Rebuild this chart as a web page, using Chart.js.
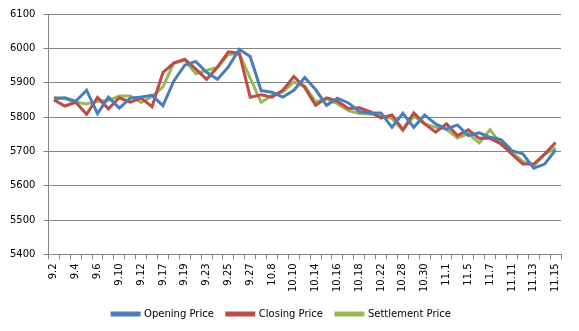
<!DOCTYPE html>
<html>
<head>
<meta charset="utf-8">
<script src="https://cdn.jsdelivr.net/npm/chart.js@4"></script>
<style>
  html, body { margin: 0; padding: 0; background: #fff; }
  #wrap { width: 579px; height: 331px; }
</style>
</head>
<body>
<div id="wrap"><canvas id="myChart"></canvas></div>
<script>
// trading days, only every other one gets a label on the axis
const dates = ['9.2','9.3','9.4','9.5','9.6','9.9','9.10','9.11','9.12','9.16',
  '9.17','9.18','9.19','9.20','9.23','9.24','9.25','9.26','9.27','9.30',
  '10.8','10.9','10.10','10.11','10.14','10.15','10.16','10.17','10.18','10.21',
  '10.22','10.25','10.28','10.29','10.30','10.31','11.1','11.4','11.5','11.6',
  '11.7','11.8','11.11','11.12','11.13','11.14','11.15'];

const opening = [5853, 5856, 5846, 5878, 5810, 5858, 5826, 5855, 5858, 5863,
  5833, 5905, 5951, 5962, 5930, 5910, 5946, 5997, 5976, 5877,
  5872, 5858, 5878, 5915, 5880, 5834, 5855, 5841, 5816, 5812,
  5812, 5770, 5811, 5770, 5806, 5780, 5765, 5777, 5746, 5754,
  5741, 5734, 5702, 5693, 5651, 5663, 5704];

const closing = [5850, 5832, 5843, 5808, 5857, 5824, 5856, 5843, 5855, 5830,
  5930, 5957, 5968, 5940, 5910, 5945, 5990, 5986, 5858, 5865,
  5858, 5878, 5918, 5886, 5834, 5856, 5846, 5825, 5827, 5816,
  5797, 5806, 5763, 5812, 5780, 5756, 5780, 5746, 5763, 5738,
  5738, 5722, 5692, 5663, 5663, 5692, 5726];

const settlement = [5857, 5854, 5843, 5838, 5846, 5848, 5861, 5861, 5842, 5860,
  5888, 5958, 5966, 5926, 5936, 5945, 5982, 5984, 5913, 5843,
  5863, 5873, 5902, 5890, 5844, 5853, 5839, 5819, 5810, 5809,
  5802, 5796, 5761, 5802, 5780, 5770, 5764, 5739, 5752, 5725,
  5763, 5720, 5697, 5671, 5658, 5692, 5710];

const yMin = 5400, yMax = 6100, yStep = 100;

Chart.defaults.font.family = '"DejaVu Sans", sans-serif';
Chart.defaults.font.size = 10;
Chart.defaults.color = '#000';

const line = (label, data, color) => ({
  label: label,
  data: data,
  borderColor: color,
  backgroundColor: color,
  borderWidth: 3,
  pointRadius: 0,
  tension: 0,
  fill: false
});

const ctx = document.getElementById('myChart');
const chart = new Chart(ctx, {
  type: 'line',
  data: {
    labels: dates,
    datasets: [
      line('Opening Price', opening, '#4a7ebb'),
      line('Closing Price', closing, '#be4b48'),
      line('Settlement Price', settlement, '#98b954')
    ]
  },
  options: {
    responsive: true,
    maintainAspectRatio: false,
    animation: false,
    layout: { padding: { left: 2, right: 18, top: 8, bottom: 2 } },
    plugins: {
      tooltip: { enabled: false },
      legend: {
        position: 'bottom',
        labels: {
          boxWidth: 27,
          boxHeight: 2,
          padding: 13,
          font: { size: 10 }
        }
      }
    },
    scales: {
      x: {
        offset: true,
        grid: {
          offset: true,
          drawOnChartArea: false,
          drawTicks: true,
          tickLength: 5,
          color: '#868686'
        },
        border: { color: '#868686' },
        ticks: {
          autoSkip: false,
          minRotation: 90,
          maxRotation: 90,
          padding: 4,
          callback: (v, i) => (i % 2 === 0 ? dates[i] : '')
        }
      },
      y: {
        min: yMin,
        max: yMax,
        grid: { color: '#868686', tickLength: 5 },
        border: { color: '#868686' },
        ticks: { stepSize: yStep, padding: 8, callback: v => String(v) }
      }
    }
  }
});
</script>
</body>
</html>
